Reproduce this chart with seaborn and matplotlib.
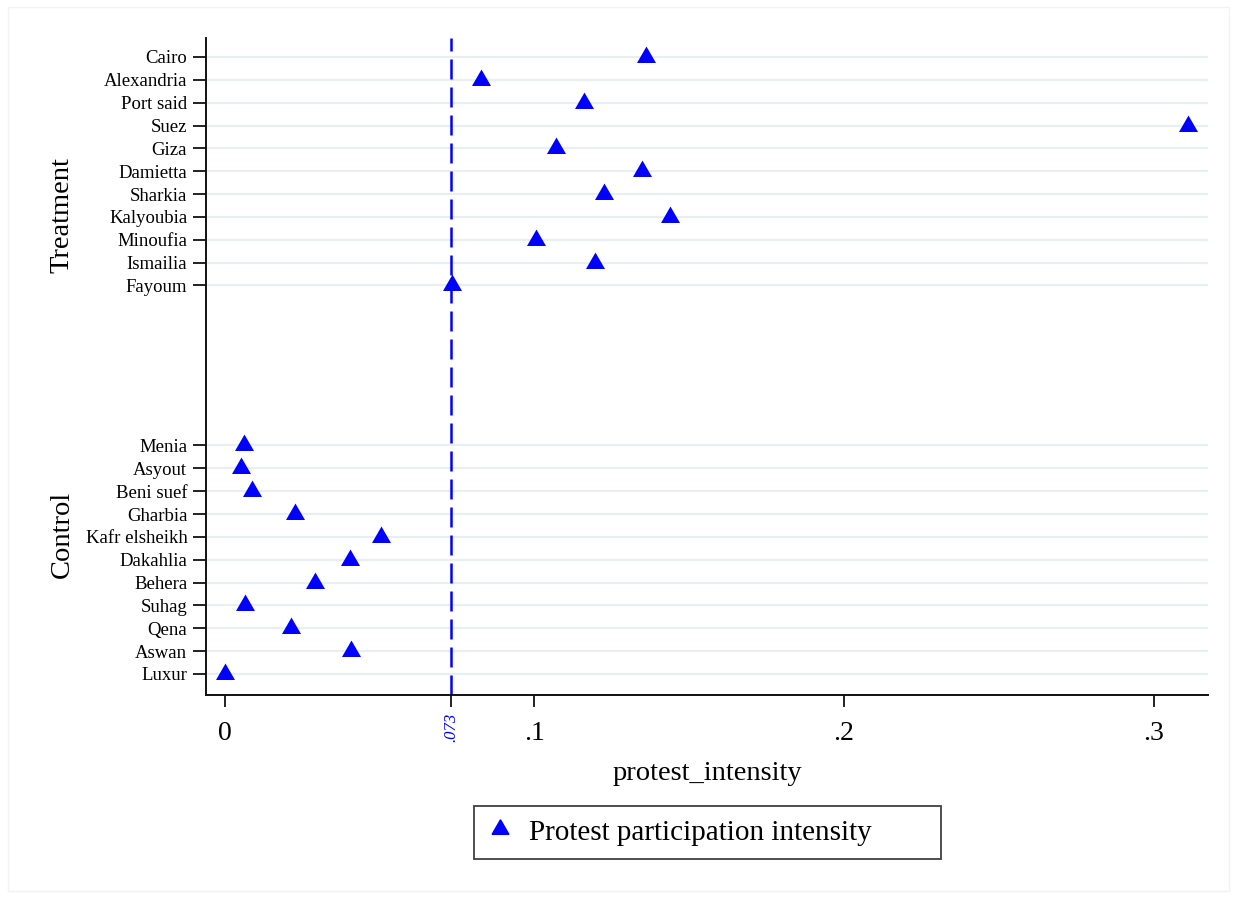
import numpy as np
import pandas as pd
import matplotlib
matplotlib.use("Agg")
import matplotlib.pyplot as plt
import matplotlib.transforms as mtransforms
from matplotlib.patches import Rectangle
from matplotlib.lines import Line2D
import seaborn as sns

# ---- data ----
treatment_regions = ["Cairo", "Alexandria", "Port said", "Suez", "Giza", "Damietta",
                     "Sharkia", "Kalyoubia", "Minoufia", "Ismailia", "Fayoum"]
treatment_values = [0.136, 0.0827, 0.116, 0.311, 0.107, 0.1347,
                    0.1225, 0.1438, 0.1005, 0.1195, 0.0733]
control_regions = ["Menia", "Asyout", "Beni suef", "Gharbia", "Kafr elsheikh", "Dakahlia",
                   "Behera", "Suhag", "Qena", "Aswan", "Luxur"]
control_values = [0.0061, 0.0052, 0.0087, 0.0226, 0.0504, 0.0404,
                  0.0291, 0.0065, 0.0213, 0.0407, 0.0]
group_names = ["Treatment", "Control"]
mean_line = 0.073
mean_label = ".073"
x_ticks = [0, 0.1, 0.2, 0.3]
x_tick_labels = ["0", ".1", ".2", ".3"]
series_label = "Protest participation intensity"
x_label = "protest_intensity"

# positions: treatment rows 0..10, gap, control rows 17..27
t_pos = list(range(len(treatment_regions)))
c_pos = list(range(17, 17 + len(control_regions)))
df = pd.DataFrame({
    "region": treatment_regions + control_regions,
    "value": treatment_values + control_values,
    "pos": t_pos + c_pos,
    "group": [group_names[0]] * len(t_pos) + [group_names[1]] * len(c_pos),
})

sns.set_theme(style="white")
plt.rcParams["font.family"] = ["Liberation Serif", "DejaVu Serif"]
plt.rcParams["text.color"] = "black"
plt.rcParams["axes.labelcolor"] = "black"
plt.rcParams["xtick.color"] = "black"
plt.rcParams["ytick.color"] = "black"

W, H = 1233, 898
fig = plt.figure(figsize=(W / 100, H / 100), dpi=100)
fig.patch.set_facecolor("white")
ax = fig.add_axes([206 / W, 1 - 695 / H, (1208 - 206) / W, (695 - 38) / H])

# grid lines
for p in df["pos"]:
    ax.axhline(p, color="#e8eef1", lw=1.6, zorder=0)

# mean line
ax.axvline(mean_line, color="#0000ff", lw=1.8, linestyle=(0, (8, 3.2)), zorder=1)

sns.scatterplot(data=df, x="value", y="pos", marker=(3, 0, 0), s=250, color="#0000ff",
                edgecolor="#0000ff", linewidth=0, ax=ax, zorder=3, legend=False)

ax.set_xlim(-0.0061, 0.3176)
ax.set_ylim(27.92, -0.83)

ax.set_yticks(df["pos"])
ax.set_yticklabels(df["region"], fontsize=13.5)
ax.set_xticks(x_ticks + [mean_line])
ax.set_xticklabels(x_tick_labels + [""], fontsize=20)

trans_x = mtransforms.blended_transform_factory(ax.transData, ax.transAxes)
ax.text(mean_line, -18 / 657, mean_label, rotation=90, fontsize=12, color="#0000ff",
        style="italic", ha="center", va="top", transform=trans_x)

ax.tick_params(axis="y", length=9.5, width=1.4, color="#222222", pad=4, left=True)
ax.tick_params(axis="x", length=8.6, width=1.4, color="#222222", pad=10, bottom=True)

for s in ["top", "right"]:
    ax.spines[s].set_visible(False)
for s in ["left", "bottom"]:
    ax.spines[s].set_color("#111111")
    ax.spines[s].set_linewidth(1.4)

ax.set_xlabel(x_label, fontsize=20.5, labelpad=11)
ax.set_ylabel("")

# group labels
trans = mtransforms.blended_transform_factory(ax.transAxes, ax.transData)
ax.text((62 - 206) / (1208 - 206), 6.9, group_names[0], rotation=90, fontsize=20.5,
        ha="center", va="center", transform=trans)
ax.text((62 - 206) / (1208 - 206), 20.9, group_names[1], rotation=90, fontsize=20.5,
        ha="center", va="center", transform=trans)

# legend
h = Line2D([], [], marker=(3, 0, 0), color="#0000ff", markersize=14, lw=0)
leg = fig.legend([h], [series_label], loc="center",
                 bbox_to_anchor=(474 / W, 1 - 860 / H, (941 - 474) / W, (860 - 805) / H),
                 mode="expand", frameon=True, fancybox=False, fontsize=21, handlelength=0.9,
                 handletextpad=0.55, borderpad=0.45, borderaxespad=0)
leg.get_frame().set_edgecolor("#111111")
leg.get_frame().set_linewidth(1.3)

# faint outer border
fig.add_artist(Rectangle((8 / W, 7 / H), (1229 - 8) / W, (891 - 7) / H,
                         transform=fig.transFigure, fill=False, edgecolor="#f2f2f2", lw=1))

fig.savefig("out.png", dpi=100)
